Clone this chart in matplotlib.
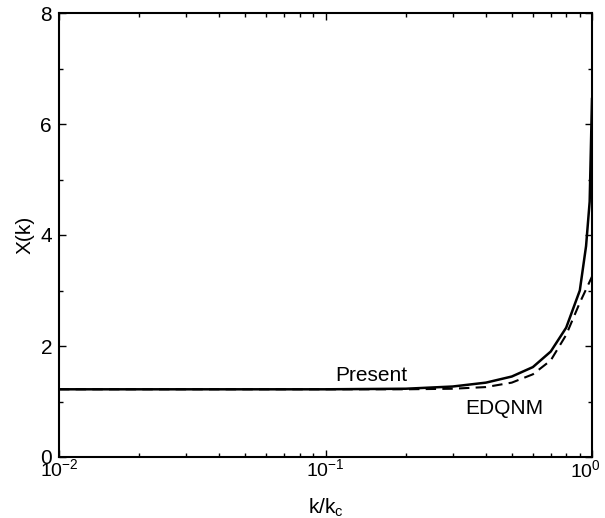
import numpy as np
import matplotlib
matplotlib.use('Agg')
import matplotlib.pyplot as plt
from matplotlib.ticker import MultipleLocator, FixedLocator, FixedFormatter

plt.rcParams['font.family'] = ['Liberation Sans', 'DejaVu Sans']
plt.rcParams['mathtext.fontset'] = 'custom'
plt.rcParams['mathtext.rm'] = 'Liberation Sans'
plt.rcParams['mathtext.it'] = 'Liberation Sans'

# data
k_present = [0.01, 0.05, 0.1, 0.2, 0.3, 0.4, 0.5, 0.6, 0.7, 0.8, 0.9, 0.95, 0.98, 1.0]
x_present = [1.22, 1.22, 1.22, 1.23, 1.27, 1.34, 1.45, 1.62, 1.90, 2.33, 3.00, 3.80, 4.60, 6.45]

k_edqnm = [0.01, 0.05, 0.1, 0.2, 0.3, 0.4, 0.5, 0.6, 0.7, 0.8, 0.9, 1.0]
x_edqnm = [1.22, 1.22, 1.22, 1.22, 1.23, 1.26, 1.34, 1.49, 1.74, 2.20, 2.78, 3.25]

xticks = [0.01, 0.1, 1.0]
xticklabels = [r'$10^{-2}$', r'$10^{-1}$', r'$10^{0}$']

fig = plt.figure(figsize=(6.05, 5.18), dpi=100)
ax = fig.add_axes([59/605, 61/518, 533/605, 444/518])

ax.plot(k_present, x_present, color='black', linewidth=1.8)
ax.plot(k_edqnm, x_edqnm, color='black', linewidth=1.5, linestyle=(0, (5, 3)))

ax.set_xscale('log')
ax.set_xlim(1e-2, 1)
ax.set_ylim(0, 8)
ax.xaxis.set_major_locator(FixedLocator(xticks))
# last label drawn separately so it can be nudged inside the figure
ax.xaxis.set_major_formatter(FixedFormatter(xticklabels[:-1] + ['']))
ax.yaxis.set_major_locator(MultipleLocator(2))
ax.yaxis.set_minor_locator(MultipleLocator(1))

ax.tick_params(which='both', direction='in', top=True, right=True)
ax.tick_params(which='major', length=5, width=1)
ax.tick_params(which='minor', length=3, width=1)
ax.tick_params(axis='x', pad=1, labelsize=14)
ax.tick_params(axis='y', pad=5, labelsize=15)
for s in ax.spines.values():
    s.set_linewidth(1.5)

ax.annotate(xticklabels[-1], xy=(xticks[-1], 0), xycoords=('data', 'axes fraction'),
            xytext=(-5, -1.8), textcoords='offset points',
            ha='center', va='top', fontsize=14)

ax.set_xlabel(r'k/k$_{\rm c}$', fontsize=15, labelpad=12)
ax.set_ylabel('X(k)', fontsize=15, labelpad=4)

ax.text(0.149, 1.30, 'Present', fontsize=15, ha='center', va='bottom')
ax.text(0.47, 1.05, 'EDQNM', fontsize=15, ha='center', va='top')

plt.savefig('out.png', dpi=100)
